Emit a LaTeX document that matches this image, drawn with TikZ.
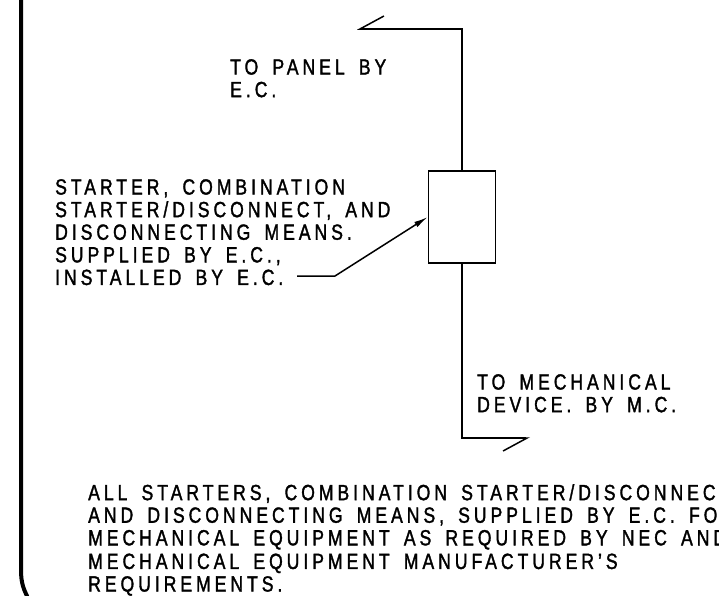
\documentclass[tikz,border=0pt]{standalone}
\usepackage{fontspec}
\setmainfont{Liberation Sans}[LetterSpace=18, WordSpace=1.6, FakeStretch=0.8, FakeBold=1.5]
\usetikzlibrary{arrows.meta}

\tikzset{
  nota/.style={align=left, anchor=north west, inner sep=0pt,
    font=\fontsize{22}{22.6}\selectfont},
  filo/.style={line width=1.5pt},
  uscita/.style={filo, -{Straight Barb[harpoon, swap, length=24pt, width=26pt, line width=1.5pt]}},
}

\begin{document}
\begin{tikzpicture}[x=1pt, y=-1pt]
  \clip (0,0) rectangle (719,595);
  % Bordo sinistro
  \draw[line width=4pt] (21,-5) -- (21,570) .. controls (21,584) and (24,590) .. (29,600);

  % Disegno dei nodi
  \node[draw, filo, minimum width=67pt, minimum height=92pt, inner sep=0pt] (avv) at (462,217) {};
  \node[nota] (pannello) at (230,59) {TO PANEL BY\\E.C.};
  \node[nota] (fornitura) at (55,179) {STARTER, COMBINATION\\STARTER/DISCONNECT, AND\\DISCONNECTING MEANS.\\SUPPLIED BY E.C.,\\INSTALLED BY E.C.};
  \node[nota] (mecc) at (477,374) {TO MECHANICAL\\DEVICE. BY M.C.};
  \node[nota] (tutti) at (88,484) {ALL STARTERS, COMBINATION STARTER/DISCONNECT\\AND DISCONNECTING MEANS, SUPPLIED BY E.C. FOR\\MECHANICAL EQUIPMENT AS REQUIRED BY NEC AND\\[1pt]MECHANICAL EQUIPMENT MANUFACTURER'S\\REQUIREMENTS.};

  \coordinate (alto) at (462,29);
  \coordinate (sinistra) at (357,29);
  \coordinate (basso) at (462,438);
  \coordinate (destra) at (530,438);
  \coordinate (capo) at (297,276);
  \coordinate (gomito) at (335,276);

  % Disegno degli archi
  \draw[uscita] (avv.north) -- (alto) -- (sinistra);
  \draw[uscita] (avv.south) -- (basso) -- (destra);
  \draw[filo, -{Latex[length=14pt, width=6pt]}] (capo) -- (gomito) -- (avv.west);
\end{tikzpicture}
\end{document}
